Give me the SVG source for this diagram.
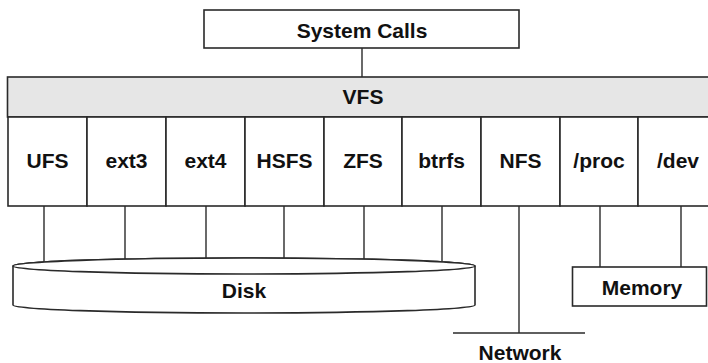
<svg xmlns="http://www.w3.org/2000/svg" width="708" height="363" viewBox="0 0 708 363">
<style>
.box{fill:#fff;stroke:#2a2a2a;stroke-width:1.6}
.bar{fill:#e6e6e6;stroke:#2a2a2a;stroke-width:1.6}
.ln{stroke:#2a2a2a;stroke-width:1.4;fill:none}
text{font-family:"Liberation Sans",Arial,sans-serif;font-weight:bold;font-size:21px;fill:#111;text-anchor:middle}
</style>
<rect width="708" height="363" fill="#fff"/>
<g id="connectors">
<line class="ln" x1="362" y1="48" x2="362" y2="77"/>
<line class="ln" x1="44" y1="206" x2="44" y2="266"/>
<line class="ln" x1="125" y1="206" x2="125" y2="266"/>
<line class="ln" x1="206" y1="206" x2="206" y2="266"/>
<line class="ln" x1="284" y1="206" x2="284" y2="266"/>
<line class="ln" x1="364" y1="206" x2="364" y2="266"/>
<line class="ln" x1="442" y1="206" x2="442" y2="266"/>
<line class="ln" x1="519" y1="206" x2="519" y2="333"/>
<line class="ln" x1="453" y1="333" x2="585" y2="333"/>
<line class="ln" x1="600" y1="206" x2="600" y2="267"/>
<line class="ln" x1="681" y1="206" x2="681" y2="267"/>
</g>
<g id="syscalls"><rect class="box" x="204" y="10" width="315" height="38"/><text x="362" y="37.5">System Calls</text></g>
<g id="vfs"><rect class="bar" x="7.5" y="77" width="710" height="40"/><text x="363" y="104">VFS</text></g>
<g id="ufs"><rect class="box" x="8" y="117" width="79" height="89"/><text x="47.5" y="167.5">UFS</text></g>
<g id="ext3"><rect class="box" x="87" y="117" width="79" height="89"/><text x="126.5" y="167.5">ext3</text></g>
<g id="ext4"><rect class="box" x="166" y="117" width="79" height="89"/><text x="205.5" y="167.5">ext4</text></g>
<g id="hsfs"><rect class="box" x="245" y="117" width="79" height="89"/><text x="284.5" y="167.5">HSFS</text></g>
<g id="zfs"><rect class="box" x="324" y="117" width="78" height="89"/><text x="363" y="167.5">ZFS</text></g>
<g id="btrfs"><rect class="box" x="402" y="117" width="79" height="89"/><text x="441.5" y="167.5">btrfs</text></g>
<g id="nfs"><rect class="box" x="481" y="117" width="79" height="89"/><text x="520.5" y="167.5">NFS</text></g>
<g id="proc"><rect class="box" x="560" y="117" width="78" height="89"/><text x="599" y="167.5">/proc</text></g>
<g id="dev"><rect class="box" x="638" y="117" width="79" height="89"/><text x="678" y="167.5">/dev</text></g>
<g id="disk">
<path class="box" d="M13,266 A231,8 0 0 1 475,266 L475,305 A231,8 0 0 1 13,305 Z"/>
<ellipse class="box" cx="244" cy="266" rx="231" ry="8"/>
<text x="244" y="297.5">Disk</text>
</g>
<g id="memory"><rect class="box" x="572.5" y="267" width="134" height="39"/><text x="642" y="295">Memory</text></g>
<g id="network"><text x="520" y="359.5">Network</text></g>
</svg>
